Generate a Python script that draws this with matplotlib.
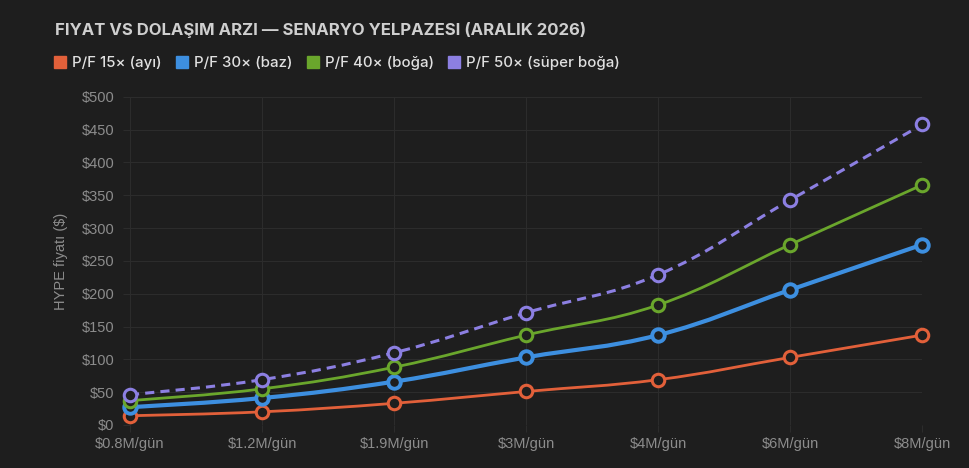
"""Fiyat vs dolaşım arzı — senaryo yelpazesi (Aralık 2026)."""
import numpy as np
import matplotlib
matplotlib.use("Agg")
import matplotlib.pyplot as plt
from matplotlib.path import Path
from matplotlib.patches import PathPatch
from matplotlib.lines import Line2D

plt.rcParams["font.family"] = ["Inter", "DejaVu Sans"]

categories = ["$0.8M/gün", "$1.2M/gün", "$1.9M/gün", "$3M/gün",
              "$4M/gün", "$6M/gün", "$8M/gün"]
bear = [14, 20, 33, 51, 69, 103, 137]
base = [27, 41, 66, 103, 137, 206, 275]
bull = [37, 55, 88, 137, 183, 275, 366]
super_bull = [46, 69, 110, 171, 229, 343, 458]
labels = ["P/F 15× (ayı)", "P/F 30× (baz)", "P/F 40× (boğa)",
          "P/F 50× (süper boğa)"]
y_ticks = list(range(0, 501, 50))

BG = "#1e1e1e"
GRID = "#2c2c2c"
TICK = "#8c8c8c"
colors = ["#e2603a", "#3d8fe0", "#6aa62c", "#8c7fe2"]
widths = [2.0, 3.0, 2.0, 2.2]
styles = ["-", "-", "-", (0, (3, 2))]
ARIAL = ["Liberation Sans", "DejaVu Sans"]


def smooth_path(xs, ys, tension=0.4):
    # chart.js style bezier through the points
    xs, ys = np.asarray(xs, float), np.asarray(ys, float)
    verts, codes = [(xs[0], ys[0])], [Path.MOVETO]
    n = len(xs)
    for i in range(n - 1):
        p0 = (xs[max(i - 1, 0)], ys[max(i - 1, 0)])
        p1 = (xs[i], ys[i])
        p2 = (xs[i + 1], ys[i + 1])
        p3 = (xs[min(i + 2, n - 1)], ys[min(i + 2, n - 1)])
        c1 = (p1[0] + (p2[0] - p0[0]) * tension / 2,
              p1[1] + (p2[1] - p0[1]) * tension / 2)
        c2 = (p2[0] - (p3[0] - p1[0]) * tension / 2,
              p2[1] - (p3[1] - p1[1]) * tension / 2)
        verts += [c1, c2, p2]
        codes += [Path.CURVE4] * 3
    return Path(verts, codes)


fig = plt.figure(figsize=(9.7, 4.68), dpi=100, facecolor=BG)
ax = fig.add_axes([0.134, 0.092, 0.817, 0.701], facecolor=BG)

x = np.arange(len(categories))
series = [bear, base, bull, super_bull]
for vals, c, lw, ls in zip(series, colors, widths, styles):
    ax.add_patch(PathPatch(smooth_path(x, vals), fill=False, edgecolor=c,
                           lw=lw, linestyle=ls, capstyle="butt", zorder=3))
    ax.plot(x, vals, "o", ms=9, mfc=BG, mec=c, mew=2.2 if lw < 3 else 2.8,
            zorder=4, clip_on=False)

ax.set_xlim(0, len(categories) - 1)
ax.set_ylim(0, 500)
ax.set_xticks(x)
ax.set_xticklabels(categories, family=ARIAL, fontsize=10.5)
ax.set_yticks(y_ticks)
ax.set_yticklabels([f"${v}" for v in y_ticks], family=ARIAL, fontsize=10.5)
ax.tick_params(colors=TICK, length=5, width=0.8)
ax.tick_params(axis="x", pad=4, color=GRID)
ax.tick_params(axis="y", pad=6, color=GRID)
ax.grid(True, color=GRID, lw=0.8)
for s in ax.spines.values():
    s.set_visible(False)
ax.set_ylabel("HYPE fiyatı ($)", color=TICK, fontsize=10.5, labelpad=10,
              family=ARIAL)

fig.text(0.057, 0.935, "FIYAT VS DOLAŞIM ARZI — SENARYO YELPAZESI (ARALIK 2026)",
         color="#cfcfcf", fontsize=12, fontweight="bold", va="center")

handles = [Line2D([], [], ls="none", marker="s", ms=9, mfc=c, mec=c)
           for c in colors]
fig.legend(handles, labels, loc="center left", bbox_to_anchor=(0.043, 0.865),
           ncol=4, frameon=False, handlelength=0.7, handletextpad=0.45,
           columnspacing=1.0, labelcolor="#e0e0e0",
           prop={"size": 10.8, "weight": "medium"})

fig.savefig("out.png", dpi=100, facecolor=BG)
